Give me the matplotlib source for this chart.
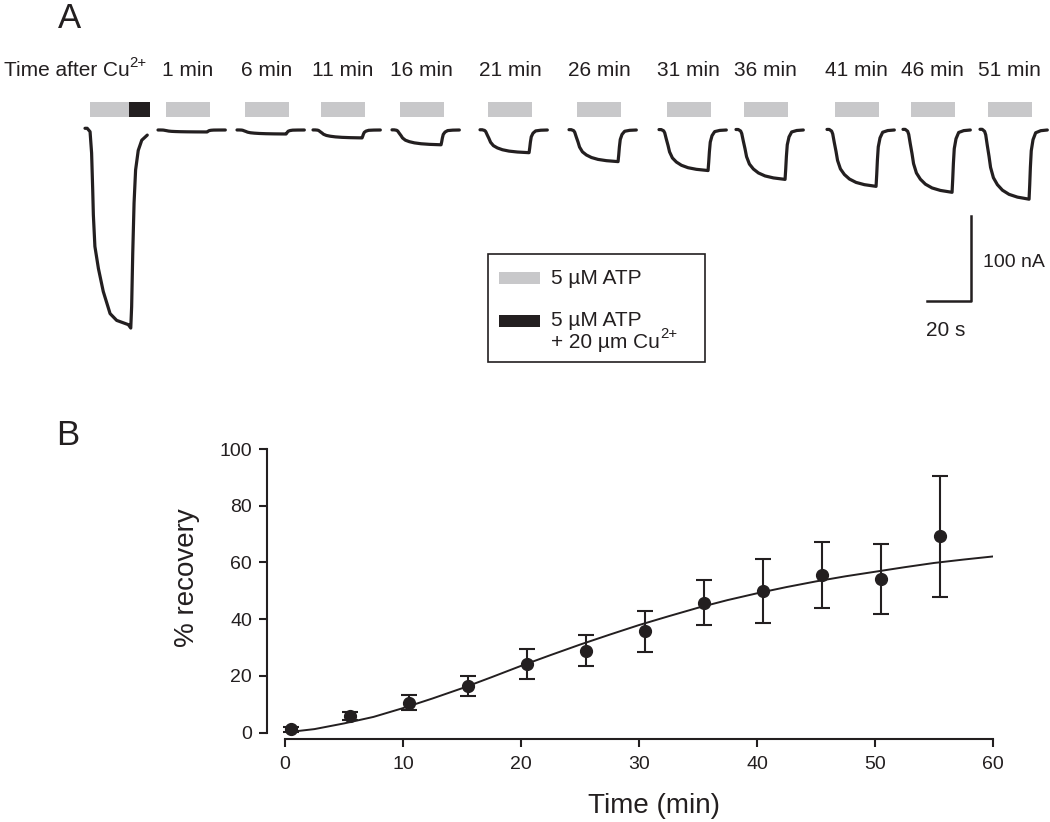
import matplotlib
matplotlib.use("Agg")
import matplotlib.pyplot as plt
from matplotlib.patches import Rectangle
import numpy as np

plt.rcParams['font.family'] = ['Liberation Sans', 'DejaVu Sans']

# ---- Panel A : données des traces (s, nA) ----
trace_labels = ["1 min", "6 min", "11 min", "16 min", "21 min", "26 min",
                "31 min", "36 min", "41 min", "46 min", "51 min"]
trace_amp = [2.3, 4.7, 9.3, 17.4, 26.7, 37.2, 47.7, 58.1, 66.3, 73.3, 81.4]  # nA

# forme normalisée d'une réponse ATP (temps en s, fraction de l'amplitude)
tmpl_t = [0, 1.0, 2.1, 2.6, 3.3, 4.1, 4.8, 6.1, 7.9, 10.2, 13.2, 17.0, 22.3,
          22.6, 22.9, 23.3, 24.1, 25.3, 27.6, 30.6]
tmpl_f = [-0.01, -0.01, 0.02, 0.07, 0.22, 0.38, 0.54, 0.69, 0.79, 0.87, 0.93,
          0.97, 1.0, 0.79, 0.54, 0.30, 0.14, 0.04, 0.01, 0.0]

# trace avec Cu2+
cu_t = [0, 1.0, 2.3, 3.0, 3.5, 3.8, 4.5, 6.1, 8.3, 11.4, 14.4, 19.7, 20.8, 21.2,
        21.7, 22.3, 23.0, 24.2, 25.8, 28.3]
cu_i = [2, 2, -2, -27, -70, -100, -137, -163, -190, -216, -224, -229, -233, -208,
        -145, -86, -47, -24, -12, -6]

atp_on, atp_dur = 3.6, 20.0
cu_atp_on, cu_atp_off, cu_off = 2.3, 20.0, 29.5

# ---- Panel B : % recovery ----
time_min = [0.5, 5.5, 10.5, 15.5, 20.5, 25.5, 30.5, 35.5, 40.5, 45.5, 50.5, 55.5]
recovery = [1.1, 5.8, 10.5, 16.4, 24.1, 28.9, 35.7, 45.8, 49.9, 55.5, 54.1, 69.2]
rec_err = [1.0, 1.5, 2.6, 3.5, 5.2, 5.6, 7.2, 7.9, 11.2, 11.7, 12.4, 21.4]
fit_t = [0, 2.5, 5, 7.5, 10, 12.5, 15, 17.5, 20, 22.5, 25, 27.5, 30, 32.5, 35,
         37.5, 40, 42.5, 45, 47.5, 50, 52.5, 55, 57.5, 60]
fit_y = [0, 1.2, 3.2, 5.5, 8.6, 12, 15.6, 19.5, 23.5, 27.3, 31.0, 34.5, 37.9, 41,
         44.0, 46.7, 49.1, 51.3, 53.3, 55.1, 56.7, 58.3, 59.8, 61, 62.1]

# position des traces (pixels) -- mise en page
trace_px = [158, 237, 313, 392, 480, 569, 659, 736, 827, 903, 980]
cu_px = 85

GRAY = "#c8c8ca"
BLACK = "#231f20"
W, H = 1050, 822
PX_S, PX_NA, BASE = 2.2, 0.85, 130
FS_A = 15

fig = plt.figure(figsize=(W / 100, H / 100), dpi=100)

ax_a = fig.add_axes([0, 0, 1, 1])
ax_a.set_xlim(0, W / PX_S)
ax_a.set_ylim(-(H - BASE) / PX_NA, BASE / PX_NA)
ax_a.axis("off")


def X(px):
    return px / PX_S


def Y(py):
    return (BASE - py) / PX_NA


def text_sup(x, y, txt, sup, size):
    # texte + exposant "2+" collé à droite
    t = ax_a.text(x, y, txt, ha="left", va="center", fontsize=size, color=BLACK)
    fig.canvas.draw()
    bb = t.get_window_extent().transformed(ax_a.transData.inverted())
    ax_a.text(bb.x1, y + (bb.y1 - bb.y0) * 0.42, sup, ha="left", va="center",
              fontsize=size * 0.72, color=BLACK)


line_kw = dict(color=BLACK, lw=2.3, solid_capstyle="round", solid_joinstyle="round")
bar_bot, bar_h = Y(117), Y(102) - Y(117)

# trace Cu
x0 = X(cu_px)
ax_a.plot(x0 + np.array(cu_t), cu_i, **line_kw)
ax_a.add_patch(Rectangle((x0 + cu_atp_on, bar_bot), cu_atp_off - cu_atp_on, bar_h,
                         color=GRAY, lw=0))
ax_a.add_patch(Rectangle((x0 + cu_atp_off, bar_bot), cu_off - cu_atp_off, bar_h,
                         color=BLACK, lw=0))
text_sup(X(4), Y(71), "Time after Cu", "2+", FS_A)

for lab, amp, px in zip(trace_labels, trace_amp, trace_px):
    x0 = X(px)
    ax_a.plot(x0 + np.array(tmpl_t), -amp * np.array(tmpl_f), **line_kw)
    ax_a.add_patch(Rectangle((x0 + atp_on, bar_bot), atp_dur, bar_h, color=GRAY, lw=0))
    ax_a.text(x0 + atp_on + atp_dur / 2, Y(71), lab, ha="center", va="center",
              fontsize=FS_A, color=BLACK)

# barre d'échelle 20 s / 100 nA
sx, sy = X(927), Y(301)
ax_a.plot([sx, sx + 20, sx + 20], [sy, sy, sy + 100], color=BLACK, lw=1.8)
ax_a.text(X(983), Y(262), "100 nA", ha="left", va="center", fontsize=14, color=BLACK)
ax_a.text(X(926), Y(330), "20 s", ha="left", va="center", fontsize=FS_A, color=BLACK)

# légende
ax_a.add_patch(Rectangle((X(488), Y(362)), X(705) - X(488), Y(254) - Y(362),
                         fill=False, ec=BLACK, lw=1.2))
ax_a.add_patch(Rectangle((X(499), Y(284)), X(540) - X(499), Y(272) - Y(284),
                         color=GRAY, lw=0))
ax_a.add_patch(Rectangle((X(499), Y(327)), X(540) - X(499), Y(315) - Y(327),
                         color=BLACK, lw=0))
ax_a.text(X(551), Y(278), "5 µM ATP", ha="left", va="center", fontsize=FS_A, color=BLACK)
ax_a.text(X(551), Y(320), "5 µM ATP", ha="left", va="center", fontsize=FS_A, color=BLACK)
text_sup(X(551), Y(342), "+ 20 µm Cu", "2+", FS_A)

ax_a.text(X(70), Y(19), "A", ha="center", va="center", fontsize=25, color=BLACK)
ax_a.text(X(68), Y(435), "B", ha="center", va="center", fontsize=25, color=BLACK)

# ---- Panel B ----
ax_b = fig.add_axes([285 / W, (H - 732.5) / H, 708 / W, 283.5 / H])
ax_b.plot(fit_t, fit_y, color=BLACK, lw=1.4)
ax_b.errorbar(time_min, recovery, yerr=rec_err, fmt="o", color=BLACK, ms=8.5,
              capsize=5.5, elinewidth=1.5, capthick=1.5, clip_on=False)
ax_b.set_xlim(0, 60)
ax_b.set_ylim(0, 100)
ax_b.set_xticks(range(0, 61, 10))
ax_b.set_yticks(range(0, 101, 20))
ax_b.spines["top"].set_visible(False)
ax_b.spines["right"].set_visible(False)
ax_b.spines["left"].set_position(("outward", 13))
ax_b.spines["bottom"].set_position(("outward", 4.6))
for s in ["left", "bottom"]:
    ax_b.spines[s].set_linewidth(1.5)
    ax_b.spines[s].set_color(BLACK)
ax_b.tick_params(direction="out", length=5.8, width=1.5, labelsize=14,
                 colors=BLACK)
ax_b.tick_params(axis="x", pad=6.5)
ax_b.tick_params(axis="y", pad=5)
ax_b.patch.set_alpha(0)

fig.text(187 / W, 1 - 578 / H, "% recovery", rotation=90, ha="center", va="center",
         fontsize=20, color=BLACK)
fig.text(654 / W, 1 - 806 / H, "Time (min)", ha="center", va="center",
         fontsize=20, color=BLACK)

fig.savefig("out.png", dpi=100)
